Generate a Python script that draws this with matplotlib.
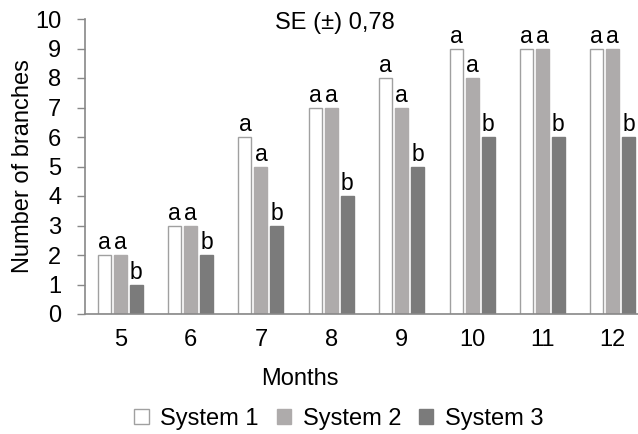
import matplotlib
matplotlib.use("Agg")
import matplotlib.pyplot as plt
import numpy as np

plt.rcParams['font.family'] = ['Liberation Sans', 'DejaVu Sans']

months = ['5', '6', '7', '8', '9', '10', '11', '12']
system1 = [2, 3, 6, 7, 8, 9, 9, 9]
system2 = [2, 3, 5, 7, 7, 8, 9, 9]
system3 = [1, 2, 3, 4, 5, 6, 6, 6]
letters1 = ['a'] * 8
letters2 = ['a'] * 8
letters3 = ['b'] * 8
series_names = ['System 1', 'System 2', 'System 3']

W, H = 638, 434
fig = plt.figure(figsize=(W / 100, H / 100), dpi=100)
ax = fig.add_axes([85 / W, (H - 314) / H, (648 - 85) / W, (314 - 19) / H])

x = np.arange(len(months))
width = 0.185
step = 0.227
face = ['white', '#aeabab', '#7b7b7b']
edge = ['#a0a0a0', '#aeabab', '#7b7b7b']
data = [system1, system2, system3]
lets = [letters1, letters2, letters3]

bars_all = []
for i, (vals, lab) in enumerate(zip(data, lets)):
    pos = x + (i - 1) * step
    b = ax.bar(pos, vals, width, color=face[i], edgecolor=edge[i], linewidth=1.0,
               label=series_names[i])
    bars_all.append(b)
    for p, v, l in zip(pos, vals, lab):
        ax.text(p, v + 0.02, l, ha='center', va='bottom', fontsize=16.5)

ax.set_ylim(0, 10)
ax.set_xlim(-0.5, len(months) - 0.5)
ax.set_yticks(range(0, 11))
ax.set_xticks(x)
ax.set_xticklabels(months)
ax.tick_params(axis='y', length=6, width=1, color='#888888', labelsize=17, pad=11)
ax.tick_params(axis='x', length=0, labelsize=17, pad=11)

for s in ['top', 'right']:
    ax.spines[s].set_visible(False)
for s in ['left', 'bottom']:
    ax.spines[s].set_color('#888888')
    ax.spines[s].set_linewidth(1.2)

ax.set_ylabel('Number of branches', fontsize=17, labelpad=0.5)
fig.text(300 / W, 1 - 379 / H, 'Months', ha='center', va='center', fontsize=17)
fig.text(335 / W, 1 - 23 / H, 'SE (±) 0,78', ha='center', va='center', fontsize=17)

leg = fig.legend(handles=bars_all, labels=series_names, loc='center',
                 bbox_to_anchor=(339 / W, 1 - 419 / H), ncol=3, frameon=False,
                 fontsize=17, handlelength=0.6, handleheight=0.6, columnspacing=0.76,
                 handletextpad=0.5, borderpad=0.1)

fig.savefig('out.png', dpi=100)
